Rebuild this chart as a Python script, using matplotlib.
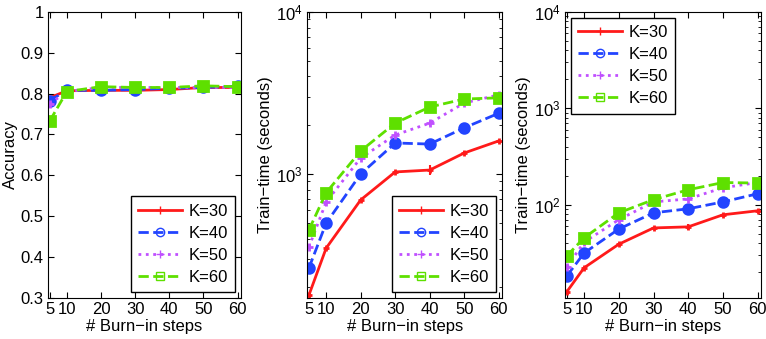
import numpy as np
import matplotlib
matplotlib.use('Agg')
import matplotlib.pyplot as plt
from matplotlib.lines import Line2D
from matplotlib.ticker import LogLocator, NullFormatter

plt.rcParams['font.family'] = ['Liberation Sans', 'DejaVu Sans']
plt.rcParams['mathtext.fontset'] = 'custom'
plt.rcParams['mathtext.rm'] = 'Liberation Sans'

# Burn-in steps
steps = [5, 10, 20, 30, 40, 50, 60]
labels = ['K=30', 'K=40', 'K=50', 'K=60']

# Accuracy
acc_k30 = [0.790, 0.807, 0.808, 0.808, 0.810, 0.815, 0.815]
acc_k40 = [0.783, 0.808, 0.808, 0.810, 0.813, 0.815, 0.818]
acc_k50 = [0.775, 0.805, 0.815, 0.815, 0.815, 0.815, 0.815]
acc_k60 = [0.733, 0.805, 0.817, 0.815, 0.815, 0.819, 0.817]

# Train time, middle panel (seconds)
t1_k30 = [179, 349, 692, 1030, 1058, 1348, 1600]
t1_k40 = [263, 498, 1000, 1554, 1530, 1927, 2370]
t1_k50 = [354, 672, 1255, 1740, 2060, 2740, 3080]
t1_k60 = [452, 767, 1387, 2060, 2590, 2900, 2950]

# Train time, right panel (seconds)
t2_k30 = [12.5, 22.2, 39, 57.5, 59, 78.7, 86.6]
t2_k40 = [18.2, 31.6, 56, 82.5, 90.8, 107, 130]
t2_k50 = [22.6, 41, 70, 107, 115, 150, 170]
t2_k60 = [29.5, 45.4, 82.5, 113, 143, 170, 168]

# small relative error bars
rel_err = [0.03, 0.02, 0.02, 0.02, 0.07, 0.03, 0.02]

colors = ['#ff1a1a', '#2244ff', '#c050ff', '#5ee000']
styles = ['-', '--', ':', '--']
markers = ['+', 'o', '+', 's']
msizes = [5, 7, 6, 7]

fig = plt.figure(figsize=(7.66, 3.39), dpi=100)
ax1 = fig.add_axes([0.0627, 0.121, 0.252, 0.844])
ax2 = fig.add_axes([0.401, 0.121, 0.2546, 0.844])
ax3 = fig.add_axes([0.7376, 0.121, 0.256, 0.844])

leg_kw = dict(fontsize=12, fancybox=False, edgecolor='black', handlelength=2.6,
              borderaxespad=0.35, labelspacing=0.42, handletextpad=0.4,
              borderpad=0.45, framealpha=1)

# legend proxies: hollow markers like the original
proxies = [Line2D([], [], color=colors[i], linestyle=styles[i], linewidth=2,
                  marker=markers[i], markersize=6, markerfacecolor='none',
                  markeredgewidth=1) for i in range(4)]


def draw(ax, series, log=False):
    for i, ys in enumerate(series):
        ys = np.array(ys)
        if log:
            err = ys * np.array(rel_err) * (1.0 if i == 0 else 0.5)
        else:
            err = np.full(len(ys), 0.003)
        ax.errorbar(steps, ys, yerr=err, color=colors[i], linestyle=styles[i],
                    marker=markers[i], markersize=msizes[i], markeredgewidth=2,
                    markerfacecolor=colors[i], linewidth=2, elinewidth=1.5,
                    capsize=0)
    ax.set_xlim(4.5, 61)
    ax.set_xticks(steps)
    ax.set_xlabel('# Burn\u2212in steps', fontsize=12, labelpad=1)
    ax.tick_params(direction='in', top=True, right=True, labelsize=12, length=4, pad=3)
    ax.tick_params(which='minor', direction='in', top=True, right=True, length=2.5)


draw(ax1, [acc_k30, acc_k40, acc_k50, acc_k60])
ax1.set_ylim(0.3, 1.0)
ax1.set_yticks([0.3, 0.4, 0.5, 0.6, 0.7, 0.8, 0.9, 1.0])
ax1.set_yticklabels(['0.3', '0.4', '0.5', '0.6', '0.7', '0.8', '0.9', '1'])
ax1.set_ylabel('Accuracy', fontsize=12, labelpad=2)
ax1.legend(proxies, labels, loc='lower right', **leg_kw)

for ax, data, lo, loc in [(ax2, [t1_k30, t1_k40, t1_k50, t1_k60], 172, 'lower right'),
                          (ax3, [t2_k30, t2_k40, t2_k50, t2_k60], 10.8, 'upper left')]:
    ax.set_yscale('log')
    draw(ax, data, log=True)
    ax.set_ylim(lo, 1e4)
    ax.yaxis.set_major_locator(LogLocator(base=10, numticks=10))
    ax.yaxis.set_minor_locator(LogLocator(base=10, subs=np.arange(2, 10), numticks=20))
    ax.yaxis.set_minor_formatter(NullFormatter())
    ax.set_ylabel('Train\u2212time (seconds)', fontsize=12, labelpad=2)
    ax.legend(proxies, labels, loc=loc, **leg_kw)

fig.savefig('out.png', dpi=100)
